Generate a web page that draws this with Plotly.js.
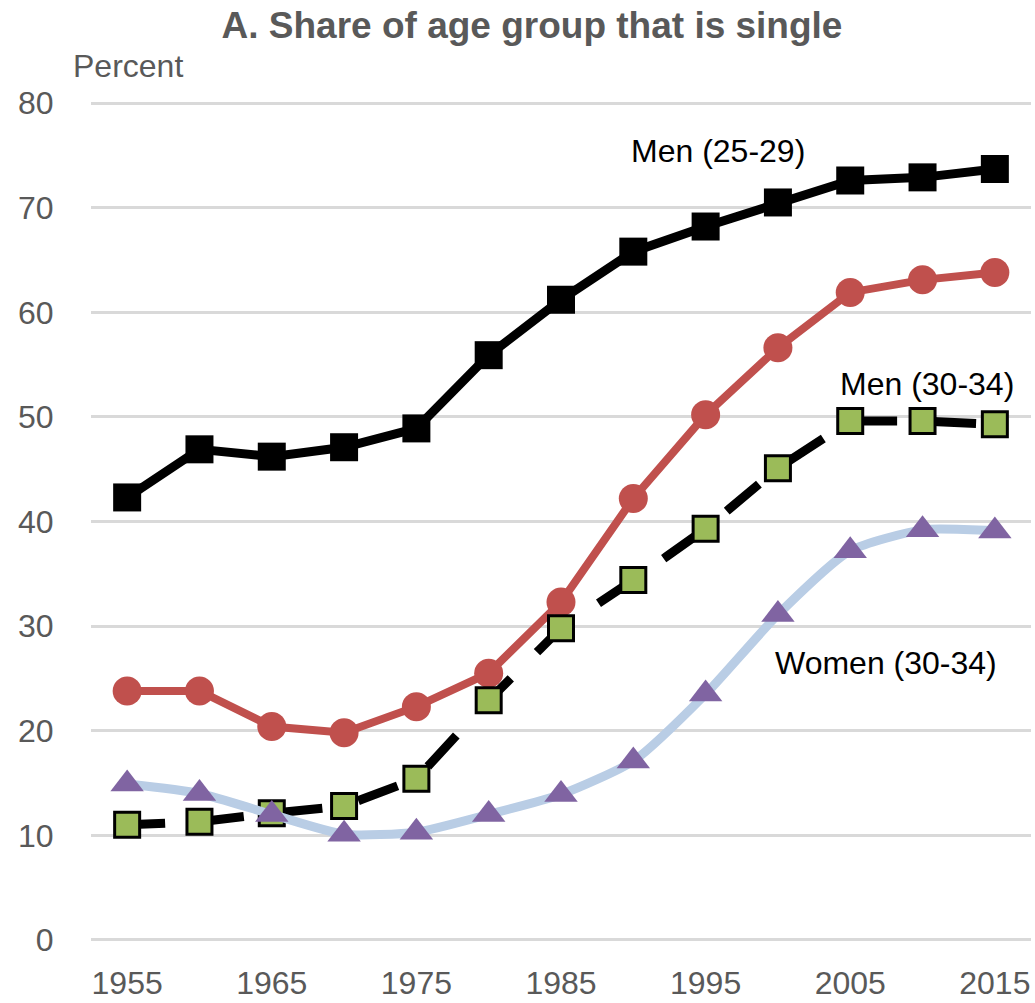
<!DOCTYPE html>
<html>
<head>
<meta charset="utf-8">
<script src="https://cdn.plot.ly/plotly-3.0.1.min.js"></script>
<style>html,body{margin:0;padding:0;background:#fff;}</style>
</head>
<body>
<div id="chart" style="width:1035px;height:1003px;"></div>
<script>
const years = [1955,1960,1965,1970,1975,1980,1985,1990,1995,2000,2005,2010,2015];
const menYoung   = [42.3,46.9,46.2,47.1,48.9,55.9,61.2,65.8,68.2,70.5,72.6,72.9,73.7];
const womenYoung = [23.8,23.8,20.4,19.8,22.3,25.5,32.3,42.2,50.2,56.6,61.9,63.1,63.8];
const menOld     = [11.0,11.3,12.1,12.8,15.4,22.9,29.8,34.4,39.3,45.1,49.6,49.6,49.3];
const womenOld   = [14.9,14.0,12.0,10.1,10.3,12.0,13.9,17.1,23.5,31.1,37.2,39.2,39.1];
const xTicks = [1955,1965,1975,1985,1995,2005,2015];
const yTicks = [0,10,20,30,40,50,60,70,80];

const FONT = '"Liberation Sans", Arial, sans-serif';
const GRAY = '#595959';

const traces = [
  {x: years, y: menYoung, name: 'Men (25-29)', mode: 'lines+markers',
   line: {color: '#000000', width: 9},
   marker: {symbol: 'square', size: 28, color: '#000000'}},
  {x: years, y: womenYoung, name: 'Women (25-29)', mode: 'lines+markers',
   line: {color: '#C0504D', width: 8},
   marker: {symbol: 'circle', size: 29, color: '#C0504D'}},
  {x: years, y: menOld, name: 'Men (30-34)', mode: 'lines+markers',
   line: {color: '#000000', width: 9, dash: '38px,37px,4px,0px'},
   marker: {symbol: 'square', size: 25, color: '#9BBB59', line: {color: '#000000', width: 3}}},
  {x: years, y: womenOld, name: 'Women (30-34)', mode: 'lines+markers',
   line: {color: '#B9CDE5', width: 9, shape: 'spline', smoothing: 0.6},
   marker: {symbol: 'triangle-up', size: 29, color: '#8064A2'}}
];

const layout = {
  width: 1035, height: 1003,
  margin: {l: 91, r: 4, t: 101, b: 61},
  paper_bgcolor: '#ffffff', plot_bgcolor: '#ffffff',
  showlegend: false,
  font: {family: FONT, size: 32, color: GRAY},
  title: {text: '<b>A. Share of age group that is single</b>',
          font: {family: FONT, size: 37, color: GRAY},
          x: 532/1035, xanchor: 'center', xref: 'container',
          y: 1 - 25/1003, yanchor: 'middle', yref: 'container'},
  xaxis: {range: [1952.5, 2017.5], tickmode: 'array', tickvals: xTicks,
          ticktext: xTicks.map(String), showgrid: false, zeroline: false,
          showline: false, ticks: 'outside', ticklen: 13, tickcolor: 'rgba(0,0,0,0)',
          tickfont: {family: FONT, size: 32, color: GRAY}, fixedrange: true},
  yaxis: {range: [-0.2, 80.2], tickmode: 'array', tickvals: yTicks,
          ticktext: yTicks.map(String), showgrid: true, gridcolor: '#D9D9D9', gridwidth: 3,
          zeroline: false, showline: false, ticks: 'outside', ticklen: 30,
          tickcolor: 'rgba(0,0,0,0)',
          tickfont: {family: FONT, size: 32, color: GRAY}, fixedrange: true},
  annotations: [
    {text: 'Percent', xref: 'paper', yref: 'paper', x: (71-91)/940, y: (942.4-66)/841.5,
     xanchor: 'left', yanchor: 'middle', showarrow: false,
     font: {family: FONT, size: 32, color: GRAY}},
    {text: 'Men (25-29)', x: 1995.86, y: 75.4, xanchor: 'center', yanchor: 'middle',
     showarrow: false, font: {family: FONT, size: 32, color: '#000000'}},
    {text: 'Men (30-34)', x: 2010.3, y: 53.1, xanchor: 'center', yanchor: 'middle',
     showarrow: false, font: {family: FONT, size: 32, color: '#000000'}},
    {text: 'Women (30-34)', x: 2007.44, y: 26.5, xanchor: 'center', yanchor: 'middle',
     showarrow: false, font: {family: FONT, size: 32, color: '#000000'}}
  ]
};

Plotly.newPlot('chart', traces, layout, {staticPlot: true, displayModeBar: false});
</script>
</body>
</html>
